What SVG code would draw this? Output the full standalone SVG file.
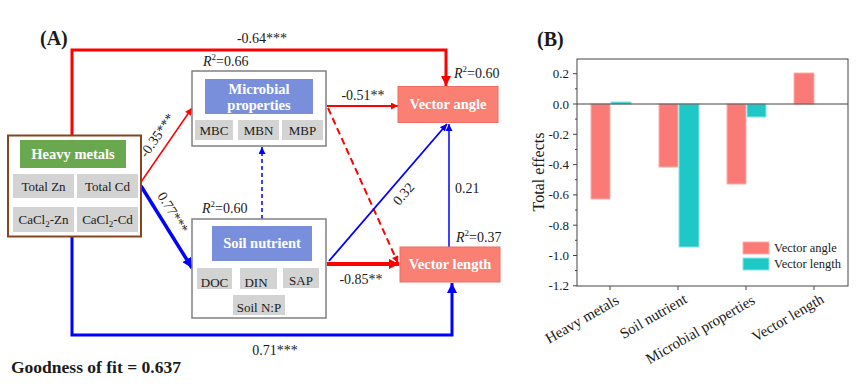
<svg xmlns="http://www.w3.org/2000/svg" width="865" height="386" viewBox="0 0 865 386">
<style>
text{font-family:"Liberation Serif","Times New Roman",serif;fill:#1a1a1a}
.t14{font-size:14px}
.g{font-size:13px;text-anchor:middle}
.hb{font-size:14.5px;font-weight:bold;fill:#fff;text-anchor:middle}
.gray{fill:#d3d3d3}
.lab{font-size:14px}
.tick{font-size:13px;text-anchor:end}
.cat{font-size:15px;text-anchor:end}
.leg{font-size:12.5px}
.red{stroke:#ff0000;fill:none}
.blue{stroke:#0000ff;fill:none}
.ax{stroke:#444;stroke-width:1;fill:none}
.rb{fill:#fa7a78;stroke:#fcb0ac;stroke-width:1}
.cb{fill:#1ec8c6;stroke:#8ee4e2;stroke-width:1}
</style>
<defs>
<marker id="ar" viewBox="0 0 10 10" refX="10" refY="5" markerUnits="userSpaceOnUse" markerWidth="10" markerHeight="10" orient="auto"><path d="M0,0 L10,5 L0,10 z" fill="#ff0000"/></marker>
<marker id="ars" viewBox="0 0 10 10" refX="10" refY="5" markerUnits="userSpaceOnUse" markerWidth="8" markerHeight="7" orient="auto"><path d="M0,0 L10,5 L0,10 z" fill="#ff0000"/></marker>
<marker id="ab" viewBox="0 0 10 10" refX="10" refY="5" markerUnits="userSpaceOnUse" markerWidth="10" markerHeight="10" orient="auto"><path d="M0,0 L10,5 L0,10 z" fill="#0000ff"/></marker>
<marker id="abs" viewBox="0 0 10 10" refX="10" refY="5" markerUnits="userSpaceOnUse" markerWidth="8" markerHeight="7" orient="auto"><path d="M0,0 L10,5 L0,10 z" fill="#0000ff"/></marker>
</defs>
<rect width="865" height="386" fill="#fff"/>

<text x="40" y="45" style="font-size:20px;font-weight:bold">(A)</text>
<text x="537" y="46" style="font-size:20px;font-weight:bold">(B)</text>

<g id="connectors">
<path class="red" d="M72,135 V50 H446 V86" stroke-width="3" marker-end="url(#ar)"/>
<path class="red" d="M141,182 L192,108" stroke-width="1.5" marker-end="url(#ars)"/>
<path class="blue" d="M141,186 L192,268" stroke-width="3.5" marker-end="url(#ab)"/>
<path class="blue" d="M72,236 V335 H452 V283" stroke-width="3" marker-end="url(#ab)"/>
<path class="red" d="M327,106 H398" stroke-width="2" marker-end="url(#ars)"/>
<path class="red" d="M328,108 L398,263" stroke-width="2" stroke-dasharray="7,4" marker-end="url(#ars)"/>
<path class="blue" d="M262,219 V147" stroke-width="1.5" stroke-dasharray="4,3" marker-end="url(#abs)"/>
<path class="blue" d="M329,261 L447,124" stroke-width="1.8" marker-end="url(#abs)"/>
<path class="red" d="M327,264 H399" stroke-width="4" marker-end="url(#ar)"/>
<path class="blue" d="M449,247 V124" stroke-width="1.5" marker-end="url(#abs)"/>
<text class="lab" x="262" y="43" text-anchor="middle">-0.64***</text>
<text class="lab" transform="translate(161,138) rotate(-55)" text-anchor="middle">-0.35***</text>
<text class="lab" transform="translate(169,215) rotate(58)" text-anchor="middle">0.77***</text>
<text class="lab" x="363" y="100" text-anchor="middle">-0.51**</text>
<text class="lab" transform="translate(407,197) rotate(-49)" text-anchor="middle">0.32</text>
<text class="lab" x="455" y="193">0.21</text>
<text class="lab" x="361" y="284" text-anchor="middle">-0.85**</text>
<text class="lab" x="275" y="355" text-anchor="middle">0.71***</text>
</g>

<g id="heavy-metals">
<rect x="8" y="135.5" width="133" height="101" fill="#fff" stroke="#86451d" stroke-width="2"/>
<rect x="20" y="140" width="106" height="28" fill="#6aa84f"/>
<text class="hb" x="73" y="159">Heavy metals</text>
<rect class="gray" x="13" y="174" width="61" height="24"/>
<rect class="gray" x="77" y="174" width="61" height="24"/>
<rect class="gray" x="13" y="207" width="61" height="25"/>
<rect class="gray" x="77" y="207" width="61" height="25"/>
<text class="g" x="43.5" y="191">Total Zn</text>
<text class="g" x="107.5" y="191">Total Cd</text>
<text class="g" x="43.5" y="224">CaCl<tspan font-size="9" dy="3">2</tspan><tspan dy="-3">-Zn</tspan></text>
<text class="g" x="107.5" y="224">CaCl<tspan font-size="9" dy="3">2</tspan><tspan dy="-3">-Cd</tspan></text>
</g>

<g id="microbial-properties">
<text class="t14" x="203" y="66"><tspan font-style="italic">R</tspan><tspan font-size="9" dy="-6">2</tspan><tspan dy="6">=0.66</tspan></text>
<rect x="192" y="71" width="134" height="75" fill="#fff" stroke="#808080" stroke-width="1.5"/>
<rect x="205" y="79" width="108" height="35" fill="#7a8fdc"/>
<text class="hb" x="259" y="94">Microbial</text>
<text class="hb" x="259" y="110">properties</text>
<rect class="gray" x="195" y="120" width="38" height="20"/>
<rect class="gray" x="238" y="120" width="41" height="20"/>
<rect class="gray" x="282" y="120" width="41" height="20"/>
<text class="g" x="214" y="135">MBC</text>
<text class="g" x="258.5" y="135">MBN</text>
<text class="g" x="302.5" y="135">MBP</text>
</g>

<g id="soil-nutrient">
<text class="t14" x="202" y="213"><tspan font-style="italic">R</tspan><tspan font-size="9" dy="-6">2</tspan><tspan dy="6">=0.60</tspan></text>
<rect x="192" y="219" width="134" height="99" fill="#fff" stroke="#808080" stroke-width="1.5"/>
<rect x="212" y="226" width="100" height="35" fill="#7a8fdc"/>
<text class="hb" x="262" y="248">Soil nutrient</text>
<rect class="gray" x="197" y="268" width="35" height="21"/>
<rect class="gray" x="240" y="268" width="37" height="21"/>
<rect class="gray" x="283" y="268" width="36" height="20"/>
<rect class="gray" x="233" y="295" width="52" height="20"/>
<text class="g" x="214.5" y="287">DOC</text>
<text class="g" x="256" y="287">DIN</text>
<text class="g" x="301" y="285">SAP</text>
<text class="g" x="259" y="312">Soil N:P</text>
</g>

<g id="vector-angle">
<text class="t14" x="454" y="78"><tspan font-style="italic">R</tspan><tspan font-size="9" dy="-6">2</tspan><tspan dy="6">=0.60</tspan></text>
<rect x="398" y="86.5" width="100" height="36" fill="#fa8074" stroke="#f06c62" stroke-width="1"/>
<text class="hb" x="448" y="109">Vector angle</text>
</g>

<g id="vector-length">
<text class="t14" x="456" y="242"><tspan font-style="italic">R</tspan><tspan font-size="9" dy="-6">2</tspan><tspan dy="6">=0.37</tspan></text>
<rect x="400" y="247" width="100" height="35" fill="#fa8074" stroke="#f06c62" stroke-width="1"/>
<text class="hb" x="450" y="268.5">Vector length</text>
</g>

<text x="11" y="373" style="font-size:17.5px;font-weight:bold">Goodness of fit = 0.637</text>

<g id="chart">
<rect class="rb" x="591" y="104" width="19" height="95"/>
<rect class="cb" x="611" y="102" width="20" height="2"/>
<rect class="rb" x="659" y="104" width="19" height="63"/>
<rect class="cb" x="679" y="104" width="20" height="143"/>
<rect class="rb" x="727" y="104" width="19" height="80"/>
<rect class="cb" x="747" y="104" width="19" height="13"/>
<rect class="rb" x="794" y="73" width="20" height="31"/>
<line class="ax" x1="577" y1="104" x2="848" y2="104"/>
<rect class="ax" x="577" y="59" width="271" height="227" stroke-width="1.2"/>
<path class="ax" d="M573,73.7H577 M573,104H577 M573,134.3H577 M573,164.6H577 M573,194.9H577 M573,225.2H577 M573,255.5H577 M573,285.8H577 M575,88.8H577 M575,119.1H577 M575,149.4H577 M575,179.7H577 M575,210H577 M575,240.3H577 M575,270.6H577 M610,286V290 M678,286V290 M746,286V290 M814,286V290"/>
<text class="tick" x="569" y="78">0.2</text>
<text class="tick" x="569" y="108.5">0.0</text>
<text class="tick" x="569" y="138.8">-0.2</text>
<text class="tick" x="569" y="169">-0.4</text>
<text class="tick" x="569" y="199.4">-0.6</text>
<text class="tick" x="569" y="229.7">-0.8</text>
<text class="tick" x="569" y="260">-1.0</text>
<text class="tick" x="569" y="290.3">-1.2</text>
<text transform="translate(544,172) rotate(-90)" style="font-size:16px" text-anchor="middle">Total effects</text>
<text class="cat" transform="translate(620,303) rotate(-30)">Heavy metals</text>
<text class="cat" transform="translate(688,302) rotate(-30)">Soil nutrient</text>
<text class="cat" transform="translate(756,303) rotate(-30)">Microbial properties</text>
<text class="cat" transform="translate(825,302) rotate(-30)">Vector length</text>
<rect class="rb" x="743" y="242" width="26" height="12"/>
<rect class="cb" x="743" y="258" width="26" height="12"/>
<text class="leg" x="774" y="252">Vector angle</text>
<text class="leg" x="774" y="268">Vector length</text>
</g>
</svg>
